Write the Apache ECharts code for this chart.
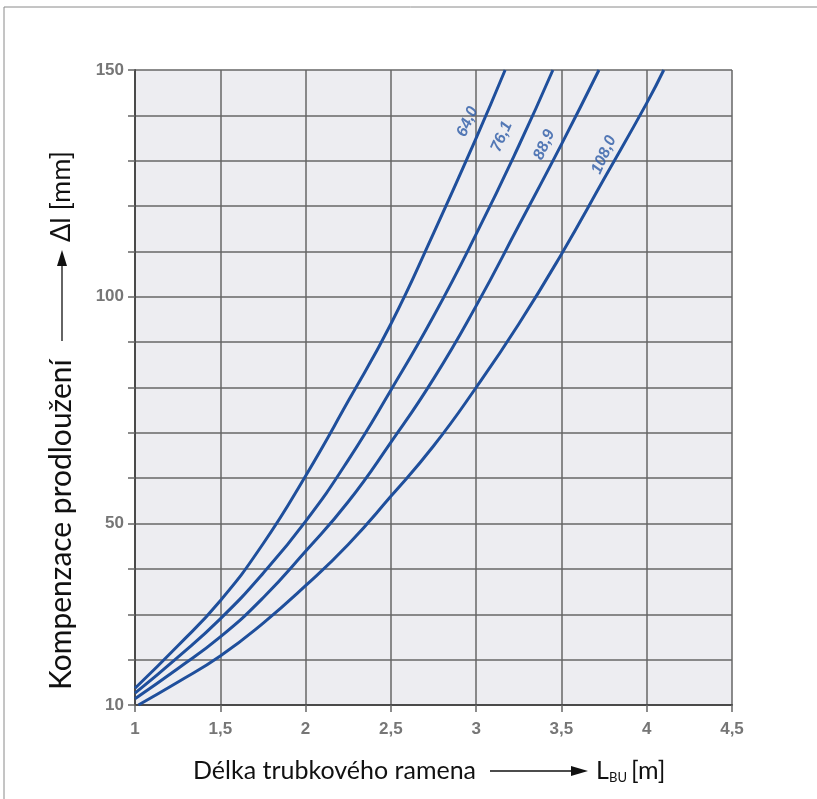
<!DOCTYPE html>
<html>
<head>
<meta charset="utf-8">
<script src="https://cdn.jsdelivr.net/npm/echarts@6/dist/echarts.min.js"></script>
<style>
	html, body { margin: 0; padding: 0; background: #fff; }
	#chart { width: 817px; height: 799px; }
</style>
</head>
<body>
<div id="chart"></div>
<script>
	// pipe outer diameters (mm), one curve each
	var pipeNames = ['64,0', '76,1', '88,9', '108,0'];

	// L_BU [m] / delta l [mm] pairs
	var curve64 = [[1.0,13.7],[1.25,23],[1.5,33],[1.75,45.5],[2.0,60.5],[2.25,77],[2.5,94],[2.75,114],[3.0,135],[3.17,150]];
	var curve76 = [[1.0,12.6],[1.25,20.5],[1.5,29],[1.75,39],[2.0,50.5],[2.25,64],[2.5,79.4],[2.75,95.7],[3.0,113.8],[3.25,133.3],[3.45,150]];
	var curve89 = [[1.0,11.4],[1.25,18],[1.5,25],[1.75,33.6],[2.0,43.9],[2.25,54.8],[2.5,67.9],[2.75,81.9],[3.0,98],[3.25,115.7],[3.5,133.6],[3.72,150]];
	var curve108 = [[1.02,10],[1.25,15],[1.5,20.8],[1.75,28],[2.0,36.3],[2.25,45.4],[2.5,56],[2.75,67.1],[3.0,80],[3.25,94],[3.5,109.4],[3.75,126],[4.0,142.7],[4.1,150]];

	// where the curve names sit (data units)
	var labelX = [2.95, 3.15, 3.40, 3.75];
	var labelY = [138.6, 135.3, 133.5, 131.3];

	var yLabels = [10, 50, 100, 150];

	var blue = '#1f4f9c';
	var tickColor = '#767676';
	var titleFont = 'Lato';

	function curveSeries(name, data) {
		return {
			name: name,
			type: 'line',
			data: data,
			smooth: true,
			showSymbol: false,
			silent: true,
			lineStyle: { color: blue, width: 3 },
			z: 3
		};
	}

	var labelData = [];
	for (var i = 0; i < pipeNames.length; i++) {
		labelData.push({ name: pipeNames[i], value: [labelX[i], labelY[i]] });
	}

	var chart = echarts.init(document.getElementById('chart'));

	var option = {
		backgroundColor: '#fff',
		animation: false,
		grid: {
			left: 135, right: 85, top: 70, bottom: 94,
			show: true,
			backgroundColor: '#ededf1',
			borderWidth: 0
		},
		xAxis: {
			type: 'value',
			min: 1, max: 4.5, interval: 0.5,
			axisLine: { show: true, onZero: false, lineStyle: { color: '#4a4a4a', width: 2 } },
			axisTick: { show: true, length: 7, lineStyle: { color: '#666', width: 1.5 } },
			axisLabel: {
				color: tickColor, fontFamily: 'Liberation Sans', fontWeight: 'bold', fontSize: 17, margin: 16,
				formatter: function (v) { return String(v).replace('.', ','); }
			},
			splitLine: { show: true, lineStyle: { color: '#666', width: 1.5 } }
		},
		yAxis: {
			type: 'value',
			min: 10, max: 150, interval: 10,
			axisLine: { show: true, onZero: false, lineStyle: { color: '#4a4a4a', width: 2 } },
			axisTick: { show: true, length: 7, lineStyle: { color: '#666', width: 1.5 } },
			axisLabel: {
				color: tickColor, fontFamily: 'Liberation Sans', fontWeight: 'bold', fontSize: 17, margin: 11,
				formatter: function (v) { return yLabels.indexOf(v) >= 0 ? String(v) : ''; }
			},
			splitLine: { show: true, lineStyle: { color: '#666', width: 1.5 } }
		},
		series: [
			curveSeries(pipeNames[0], curve64),
			curveSeries(pipeNames[1], curve76),
			curveSeries(pipeNames[2], curve89),
			curveSeries(pipeNames[3], curve108),
			{
				type: 'scatter',
				data: labelData,
				symbolSize: 0,
				silent: true,
				label: {
					show: true,
					position: 'inside',
					rotate: 66,
					formatter: '{b}',
					color: '#2c5aa6',
					fontFamily: 'Liberation Sans',
					fontWeight: 'bold',
					fontStyle: 'italic',
					fontSize: 16
				},
				z: 4
			}
		],
		graphic: [
			// outer frame (top and left only)
			{ type: 'line', shape: { x1: 4, y1: 7, x2: 817, y2: 7 }, style: { stroke: '#8a8a8a', lineWidth: 1 } },
			{ type: 'line', shape: { x1: 4, y1: 7, x2: 4, y2: 799 }, style: { stroke: '#8a8a8a', lineWidth: 1 } },

			// y axis name
			{ type: 'text', x: 61, y: 690, rotation: Math.PI / 2,
				style: { text: 'Kompenzace prodloužení', fill: '#111', font: '30px ' + titleFont, textAlign: 'left', textVerticalAlign: 'middle' } },
			{ type: 'line', shape: { x1: 62, y1: 341, x2: 62, y2: 262 }, style: { stroke: '#111', lineWidth: 1.3 } },
			{ type: 'polygon', shape: { points: [[57, 266], [62, 250], [67, 266]] }, style: { fill: '#111' } },
			{ type: 'text', x: 61, y: 242, rotation: Math.PI / 2,
				style: { text: 'Δl [mm]', fill: '#111', font: '27px ' + titleFont, textAlign: 'left', textVerticalAlign: 'middle' } },

			// x axis name
			{ type: 'text', x: 193, y: 771,
				style: { text: 'Délka trubkového ramena', fill: '#111', font: '25px ' + titleFont, textAlign: 'left', textVerticalAlign: 'middle' } },
			{ type: 'line', shape: { x1: 490, y1: 771, x2: 575, y2: 771 }, style: { stroke: '#111', lineWidth: 1.3 } },
			{ type: 'polygon', shape: { points: [[571, 766], [588, 771], [571, 776]] }, style: { fill: '#111' } },
			{ type: 'text', x: 596, y: 771,
				style: { text: 'L', fill: '#111', font: '25px ' + titleFont, textAlign: 'left', textVerticalAlign: 'middle' } },
			{ type: 'text', x: 609, y: 778,
				style: { text: 'BU', fill: '#111', font: '13px ' + titleFont, textAlign: 'left', textVerticalAlign: 'middle' } },
			{ type: 'text', x: 631, y: 771,
				style: { text: '[m]', fill: '#111', font: '25px ' + titleFont, textAlign: 'left', textVerticalAlign: 'middle' } }
		]
	};

	chart.setOption(option);
</script>
</body>
</html>
